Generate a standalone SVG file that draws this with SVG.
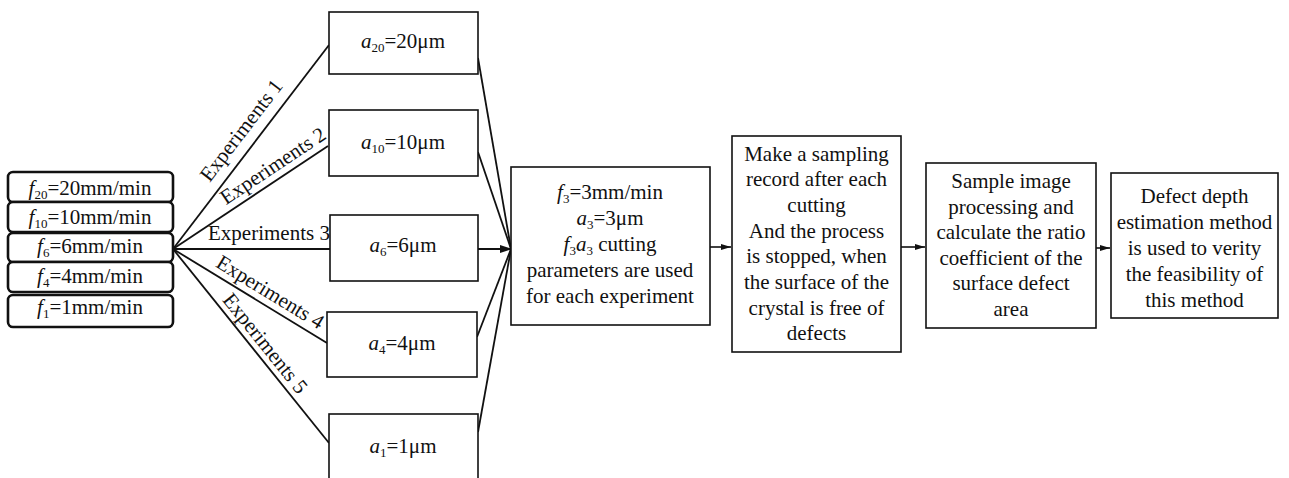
<svg xmlns="http://www.w3.org/2000/svg" width="1289" height="478" viewBox="0 0 1289 478">
<style>
text{font-family:'Liberation Serif','Times New Roman',serif;font-size:21px;fill:#111;text-anchor:middle}
.i{font-style:italic}
.s{font-size:13px}
.lb{fill:#fff;stroke:#111;stroke-width:2.6}
.bx{fill:#fff;stroke:#111;stroke-width:1.6}
.ln{stroke:#111;stroke-width:1.8;fill:none}
.ar{stroke:#111;stroke-width:1.6;fill:none}
</style>
<defs>
<marker id="ah" markerWidth="12" markerHeight="8" refX="11" refY="4" orient="auto" markerUnits="userSpaceOnUse">
<path d="M0,0 L12,4 L0,8 z" fill="#111"/>
</marker>
<marker id="ahs" markerWidth="10" markerHeight="6" refX="10" refY="3" orient="auto" markerUnits="userSpaceOnUse">
<path d="M0,0 L10,3 L0,6 z" fill="#111"/>
</marker>
</defs>

<g id="connectors">
<line class="ln" x1="173" y1="249" x2="329" y2="45"/>
<line class="ln" x1="173" y1="249" x2="328" y2="146"/>
<line class="ln" x1="173" y1="249" x2="330" y2="249"/>
<line class="ln" x1="173" y1="249" x2="327" y2="343"/>
<line class="ln" x1="173" y1="249" x2="329" y2="443"/>
<line class="ln" x1="478" y1="58" x2="511" y2="249"/>
<line class="ln" x1="478" y1="152" x2="511" y2="249"/>
<line class="ln" x1="478" y1="249" x2="511" y2="249" marker-end="url(#ah)"/>
<line class="ln" x1="477" y1="337" x2="511" y2="249"/>
<line class="ln" x1="478" y1="432" x2="511" y2="249"/>
<line class="ar" x1="710" y1="247" x2="731" y2="247" marker-end="url(#ahs)"/>
<line class="ar" x1="901" y1="247" x2="925" y2="247" marker-end="url(#ahs)"/>
<line class="ar" x1="1096" y1="248" x2="1110" y2="248" marker-end="url(#ahs)"/>
<text transform="translate(255.4,141.2) rotate(-52.6)" x="0" y="-11">Experiments 1</text>
<text transform="translate(280.7,177.4) rotate(-33.6)" x="0" y="-7">Experiments 2</text>
<text x="269" y="240">Experiments 3</text>
<text transform="translate(263.1,304) rotate(31.4)" x="0" y="-7">Experiments 4</text>
<text transform="translate(255.2,351.4) rotate(51.2)" x="0" y="-6">Experiments 5</text>
</g>

<g id="f20"><rect class="lb" x="8" y="172" width="165" height="30" rx="5"/><text x="90" y="195"><tspan class="i">f</tspan><tspan class="s" dy="4">20</tspan><tspan dy="-4">=20mm/min</tspan></text></g>
<g id="f10"><rect class="lb" x="8" y="202" width="165" height="30" rx="5"/><text x="90" y="224"><tspan class="i">f</tspan><tspan class="s" dy="4">10</tspan><tspan dy="-4">=10mm/min</tspan></text></g>
<g id="f6"><rect class="lb" x="8" y="233" width="165" height="29" rx="5"/><text x="90" y="253"><tspan class="i">f</tspan><tspan class="s" dy="4">6</tspan><tspan dy="-4">=6mm/min</tspan></text></g>
<g id="f4"><rect class="lb" x="8" y="262" width="165" height="30" rx="5"/><text x="90" y="283"><tspan class="i">f</tspan><tspan class="s" dy="4">4</tspan><tspan dy="-4">=4mm/min</tspan></text></g>
<g id="f1"><rect class="lb" x="8" y="295" width="165" height="32" rx="5"/><text x="90" y="314"><tspan class="i">f</tspan><tspan class="s" dy="4">1</tspan><tspan dy="-4">=1mm/min</tspan></text></g>

<g id="a20"><rect class="bx" x="329" y="12" width="149" height="62"/><text x="403" y="48"><tspan class="i">a</tspan><tspan class="s" dy="4">20</tspan><tspan dy="-4">=20μm</tspan></text></g>
<g id="a10"><rect class="bx" x="329" y="110" width="149" height="66"/><text x="403" y="149"><tspan class="i">a</tspan><tspan class="s" dy="4">10</tspan><tspan dy="-4">=10μm</tspan></text></g>
<g id="a6"><rect class="bx" x="330" y="215" width="148" height="66"/><text x="403" y="252"><tspan class="i">a</tspan><tspan class="s" dy="4">6</tspan><tspan dy="-4">=6μm</tspan></text></g>
<g id="a4"><rect class="bx" x="327" y="312" width="150" height="65"/><text x="402" y="350"><tspan class="i">a</tspan><tspan class="s" dy="4">4</tspan><tspan dy="-4">=4μm</tspan></text></g>
<g id="a1"><rect class="bx" x="329" y="414" width="149" height="80"/><text x="403" y="453"><tspan class="i">a</tspan><tspan class="s" dy="4">1</tspan><tspan dy="-4">=1μm</tspan></text></g>

<g id="params"><rect class="bx" x="511" y="167" width="199" height="158"/>
<text x="610" y="199"><tspan class="i">f</tspan><tspan class="s" dy="4">3</tspan><tspan dy="-4">=3mm/min</tspan></text>
<text x="610" y="225"><tspan class="i">a</tspan><tspan class="s" dy="4">3</tspan><tspan dy="-4">=3μm</tspan></text>
<text x="610" y="251"><tspan class="i">f</tspan><tspan class="s" dy="4">3</tspan><tspan class="i" dy="-4">a</tspan><tspan class="s" dy="4">3</tspan><tspan dy="-4"> cutting</tspan></text>
<text x="610" y="277">parameters are used</text>
<text x="610" y="303">for each experiment</text>
</g>

<g id="record"><rect class="bx" x="732" y="136" width="169" height="216"/>
<text x="816.5" y="160.5">Make a sampling</text>
<text x="816.5" y="186">record after each</text>
<text x="816.5" y="212">cutting</text>
<text x="816.5" y="237.5">And the process</text>
<text x="816.5" y="263">is stopped, when</text>
<text x="816.5" y="289">the surface of the</text>
<text x="816.5" y="314.5">crystal is free of</text>
<text x="816.5" y="340">defects</text>
</g>

<g id="processing"><rect class="bx" x="926" y="163" width="170" height="165"/>
<text x="1011" y="188">Sample image</text>
<text x="1011" y="213.5">processing and</text>
<text x="1011" y="239">calculate the ratio</text>
<text x="1011" y="264.5">coefficient of the</text>
<text x="1011" y="290">surface defect</text>
<text x="1011" y="315.5">area</text>
</g>

<g id="verify"><rect class="bx" x="1111" y="173" width="167" height="145"/>
<text x="1194.5" y="203">Defect depth</text>
<text x="1194.5" y="229">estimation method</text>
<text x="1194.5" y="255">is used to verity</text>
<text x="1194.5" y="281">the feasibility of</text>
<text x="1194.5" y="307">this method</text>
</g>
</svg>
